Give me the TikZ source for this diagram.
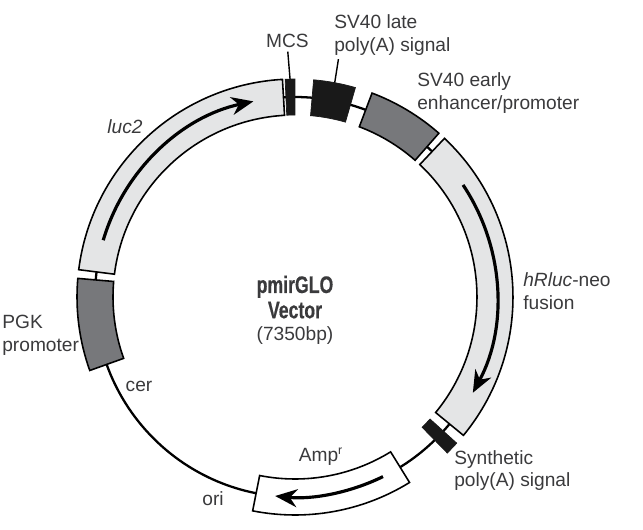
\documentclass[tikz,border=0pt]{standalone}
\usepackage{fontspec}
\setmainfont{Liberation Sans}
\newfontfamily\titlefont[FakeStretch=0.74,BoldFeatures={FakeBold=0.5}]{Liberation Sans}
\usepackage{xcolor}
\usetikzlibrary{arrows.meta}
\definecolor{cdspale}{HTML}{E4E5E6}
\definecolor{promgrey}{HTML}{77787B}
\definecolor{labelgrey}{HTML}{3A3A3C}
\newcommand{\titlefontsize}{\titlefont\fontsize{13.6}{14.2}\selectfont\bfseries}
\tikzset{
  backbone/.style = {line width=1.3pt},
  part/.style     = {draw, line width=0.9pt, line join=miter},
  cds/.style      = {part, fill=cdspale},
  promoter/.style = {part, fill=promgrey},
  signal/.style   = {fill=black!90, draw=black!90, line width=0.4pt},
  marker/.style   = {part, fill=white},
  dir/.style      = {-{Stealth[length=0.44cm,width=0.36cm]}, line width=1.8pt},
  lbl/.style      = {font=\fontsize{10.9}{13}\selectfont, text=labelgrey, inner sep=0pt},
  lblw/.style     = {lbl, anchor=west, align=left},
  leader/.style   = {line width=0.8pt, shorten <=2pt}
}
% #1 style, #2 start angle, #3 end angle
\newcommand{\segment}[3]{
  \path[#1] (#2:3.64) arc[start angle=#2, end angle=#3, radius=3.64]
    -- (#3:4.36) arc[start angle=#3, end angle=#2, radius=4.36] -- cycle;
}
\begin{document}
\begin{tikzpicture}
  \useasboundingbox (-5.9,-4.64) rectangle (6.96,5.94);
  \draw[backbone] (0,0) circle (4);

  \segment{cds}{172.8}{93.3}
  \segment{signal}{92.6}{90}
  \segment{signal}{85.1}{73.9}
  \segment{promoter}{69.3}{48.7}
  \segment{cds}{46.7}{-39.4}
  \segment{signal}{-42.1}{-45.7}
  \segment{marker}{-58.3}{-101.2}
  \segment{promoter}{175.1}{199.7}

  \draw[dir] (163.5:4) arc[start angle=163.5, end angle=102, radius=4];
  \draw[dir] (33.7:4.04) arc[start angle=33.7, end angle=-28.3, radius=4.04];
  \draw[dir] (-63.9:4) arc[start angle=-63.9, end angle=-95.7, radius=4];

  \coordinate (mcsend) at (91.3:4.36);
  \coordinate (lateend) at (79.5:4.36);

  \node[lbl] (mcs) at (-0.15,5.12) {MCS};
  \node[lblw] (late) at (0.78,5.24) {SV40 late\\poly(A) signal};
  \node[lblw] (early) at (2.44,4.08) {SV40 early\\enhancer/promoter};
  \node[lblw] (neo) at (4.56,0.12) {\textit{hRluc}-neo\\fusion};
  \node[lblw] (synth) at (3.18,-3.47) {Synthetic\\poly(A) signal};
  \node[lblw] (pgk) at (-5.86,-0.77) {PGK\\promoter};
  \node[lbl] (luc) at (-3.4,3.4) {\textit{luc2}};
  \node[lbl] (cer) at (-3.12,-1.78) {cer};
  \node[lbl] (ori) at (-1.64,-4.04) {ori};
  \node[lbl] (amp) at (0.52,-3.2) {Amp\textsuperscript{\scriptsize r}};

  \node[inner sep=0pt, align=center, text=labelgrey] (title) at (0,-0.26)
    {\titlefontsize pmirGLO\\[1.2pt]\titlefontsize Vector\\[0.6pt]\fontsize{10.9}{14.2}\selectfont (7350bp)};

  \draw[leader] (mcs.south) -- (mcsend);
  \draw[leader] ([xshift=0.1cm]late.south west) -- (lateend);
\end{tikzpicture}
\end{document}
